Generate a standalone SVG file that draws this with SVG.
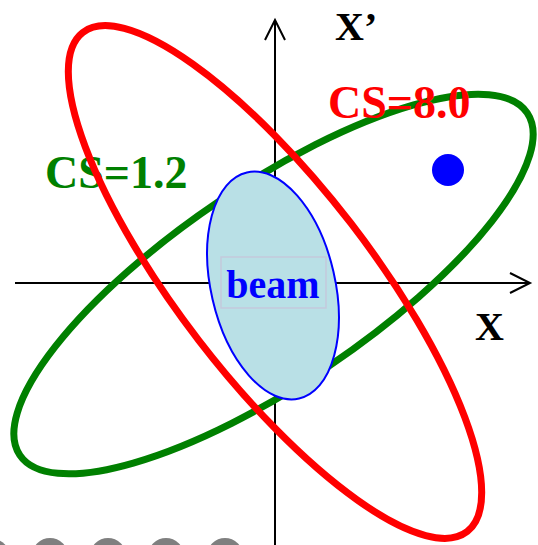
<svg xmlns="http://www.w3.org/2000/svg" width="538" height="545" viewBox="0 0 538 545">
<style>
.lbl{font-family:"Liberation Serif","Times New Roman",serif;font-weight:bold}
.axis{stroke:#000;stroke-width:2;fill:none}
.orb{fill:none;stroke-width:7}
</style>
<rect width="538" height="545" fill="#fff"/>
<g id="decor" fill="#7f7f7f">
<circle cx="-8" cy="557" r="18"/>
<circle cx="50" cy="556" r="18"/>
<circle cx="108" cy="556" r="18"/>
<circle cx="166" cy="556" r="18"/>
<circle cx="225" cy="556" r="18"/>
</g>
<g id="connectors">
<g id="axis-x"><line class="axis" x1="15" y1="283" x2="529" y2="283"/><polyline class="axis" points="510,273 530,283 510,293"/></g>
<g id="axis-xp"><line class="axis" x1="275" y1="20" x2="275" y2="545"/><polyline class="axis" points="265,40 275,20 285,40"/></g>
</g>
<g id="cs12-ellipse"><ellipse class="orb" stroke="#008000" cx="273.5" cy="284" rx="306" ry="99" transform="rotate(-34 273.5 284)"/></g>
<g id="cs80-label"><text class="lbl" x="328" y="118" font-size="46" fill="#ff0000">CS=8.0</text></g>
<g id="cs12-label"><text class="lbl" x="45" y="188" font-size="46" fill="#008000">CS=1.2</text></g>
<g id="cs80-ellipse"><ellipse class="orb" stroke="#ff0000" cx="275" cy="282" rx="315" ry="96" transform="rotate(52.4 275 282)"/></g>
<g id="beam">
<ellipse cx="273" cy="285.5" rx="62" ry="116" transform="rotate(-13 273 285.5)" fill="#b9e0e6" stroke="#0000ff" stroke-width="2"/>
<rect x="221" y="257" width="105" height="51" fill="none" stroke="#c4c9dc" stroke-width="1.5"/>
<text class="lbl" x="273" y="298" font-size="40" fill="#0000ff" text-anchor="middle">beam</text>
</g>
<g id="particle"><circle cx="448" cy="170" r="16" fill="#0000ff"/></g>
<g id="xp-label"><text class="lbl" x="335" y="40" font-size="40" fill="#000">X’</text></g>
<g id="x-label"><text class="lbl" x="475" y="340" font-size="40" fill="#000">X</text></g>
</svg>
